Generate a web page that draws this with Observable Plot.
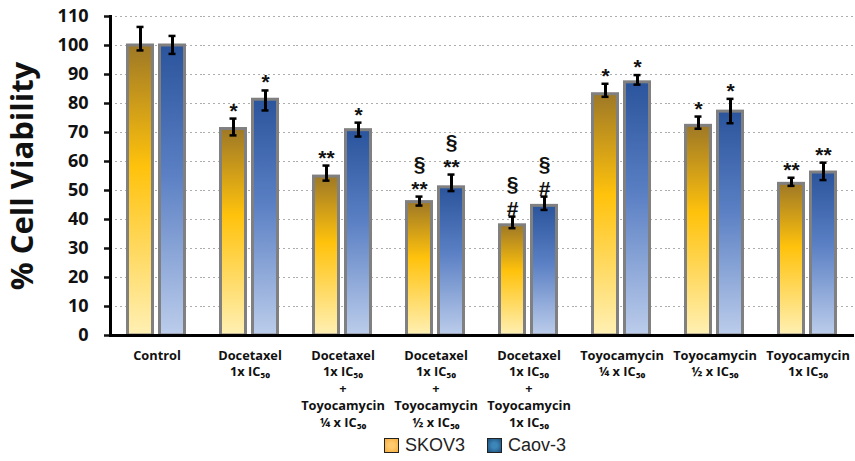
<!DOCTYPE html>
<html>
<head>
<meta charset="utf-8">
<script src="https://cdn.jsdelivr.net/npm/d3@7"></script>
<script src="https://cdn.jsdelivr.net/npm/@observablehq/plot@0.6"></script>
<style>
  body { margin: 0; background: #fff; }
  #legend { display: flex; align-items: center; padding-left: 384px; height: 31px; font-family: "Liberation Sans", Arial, sans-serif; font-size: 18px; color: #222; }
  .sw { width: 13px; height: 13px; border: 1.5px solid #222; margin-right: 6px; }
  .item { display: flex; align-items: center; margin-right: 22px; }
</style>
</head>
<body>
<div id="chart"></div>
<div id="legend">
  <div class="item"><div class="sw" style="background: radial-gradient(circle, #ffc96e 30%, #f5ac3c 100%);"></div>SKOV3</div>
  <div class="item"><div class="sw" style="background: radial-gradient(circle, #3d86b8 30%, #1b4f7c 100%);"></div>Caov-3</div>
</div>
<script>
const groups = [
  "Control",
  "Docetaxel\n1x IC₅₀",
  "Docetaxel\n1x IC₅₀\n+\nToyocamycin\n¼ x IC₅₀",
  "Docetaxel\n1x IC₅₀\n+\nToyocamycin\n½ x IC₅₀",
  "Docetaxel\n1x IC₅₀\n+\nToyocamycin\n1x IC₅₀",
  "Toyocamycin\n¼ x IC₅₀",
  "Toyocamycin\n½ x IC₅₀",
  "Toyocamycin\n1x IC₅₀"
];
const series = ["SKOV3", "Caov-3"];

const skov   = [100, 71.2, 54.8, 46.0, 38.0, 83.2, 72.3, 52.3];
const skovHi = [106.4, 74.8, 58.6, 47.9, 41.0, 86.8, 75.5, 54.4];
const skovLo = [98.3, 69.0, 53.4, 44.8, 37.0, 82.3, 71.3, 51.6];
const skovSig = ["", "*", "**", "§\n**", "§\n#", "*", "*", "**"];

const caov   = [100, 81.3, 70.8, 51.1, 44.7, 87.3, 77.2, 56.2];
const caovHi = [103.3, 84.5, 73.4, 55.5, 47.9, 89.8, 81.6, 59.6];
const caovLo = [97.1, 77.6, 68.6, 49.8, 43.3, 86.5, 73.2, 53.6];
const caovSig = ["", "*", "*", "§\n**", "§\n#", "*", "*", "**"];

const yTicks = [0, 10, 20, 30, 40, 50, 60, 70, 80, 90, 100, 110];

const table = groups.flatMap((g, i) => [
  {group: g, series: series[0], value: skov[i], lo: skovLo[i], hi: skovHi[i], sig: skovSig[i]},
  {group: g, series: series[1], value: caov[i], lo: caovLo[i], hi: caovHi[i], sig: caovSig[i]}
]);

const chart = Plot.plot({
  width: 855,
  height: 430,
  marginLeft: 108,
  marginRight: 0,
  marginTop: 16,
  marginBottom: 95,
  style: {fontFamily: "'Open Sans', 'Liberation Sans', sans-serif", color: "#111", background: "#fff"},
  fx: {domain: groups, padding: 0},
  x: {domain: series, paddingInner: 0.123, paddingOuter: 0.4985, axis: null},
  y: {domain: [0, 110]},
  marks: [
    Plot.gridY(yTicks.slice(1), {stroke: "#999", strokeOpacity: 0.8, strokeDasharray: "2,3", strokeWidth: 1}),
    Plot.barY(table, {filter: d => d.series === series[0], fx: "group", x: "series", y: "value",
      fill: "url(#gSkov)", stroke: "#808080", strokeWidth: 3, insetLeft: 1.5, insetRight: 1.5}),
    Plot.barY(table, {filter: d => d.series === series[1], fx: "group", x: "series", y: "value",
      fill: "url(#gCaov)", stroke: "#808080", strokeWidth: 3, insetLeft: 1.5, insetRight: 1.5}),
    Plot.ruleX(table, {fx: "group", x: "series", y1: "lo", y2: "hi", stroke: "#000", strokeWidth: 3}),
    Plot.tickY(table, {fx: "group", x: "series", y: "hi", stroke: "#000", strokeWidth: 2.5, insetLeft: 10.5, insetRight: 10.5}),
    Plot.tickY(table, {fx: "group", x: "series", y: "lo", stroke: "#000", strokeWidth: 2.5, insetLeft: 10.5, insetRight: 10.5}),
    Plot.text(table, {fx: "group", x: "series", y: "hi", text: "sig", lineAnchor: "bottom", dy: -1,
      fontSize: 21, fontWeight: "bold", lineHeight: 1.18, fill: "#111", fontFamily: "'Liberation Sans', Arial, sans-serif"}),
    Plot.ruleY([0], {stroke: "#000", strokeWidth: 3}),
    Plot.axisY({ticks: yTicks, tickSize: 6, tickPadding: 16, strokeWidth: 2.5, fontSize: 18, fontWeight: "bold", label: null}),
    Plot.axisY({ticks: [], label: "% Cell Viability", labelAnchor: "center", labelArrow: "none", labelOffset: 100, fontSize: 31, fontWeight: "bold"}),
    Plot.frame({anchor: "left", facet: "super", stroke: "#000", strokeWidth: 3}),
    Plot.axisFx({anchor: "bottom", tickSize: 0, tickPadding: 12, fontSize: 12.8, fontWeight: "bold", lineHeight: 1.32, label: null})
  ]
});

const defs = d3.select(chart).insert("defs", ":first-child");
function grad(id, stops) {
  const g = defs.append("linearGradient").attr("id", id).attr("x1", 0).attr("y1", 0).attr("x2", 0).attr("y2", 1);
  stops.forEach(([o, c]) => g.append("stop").attr("offset", o).attr("stop-color", c));
}
grad("gSkov", [[0, "#9e7826"], [0.42, "#ffc20c"], [1, "#fff0b4"]]);
grad("gCaov", [[0, "#2a549c"], [0.45, "#5b80c4"], [1, "#bccdeb"]]);

document.getElementById("chart").appendChild(chart);
</script>
</body>
</html>
